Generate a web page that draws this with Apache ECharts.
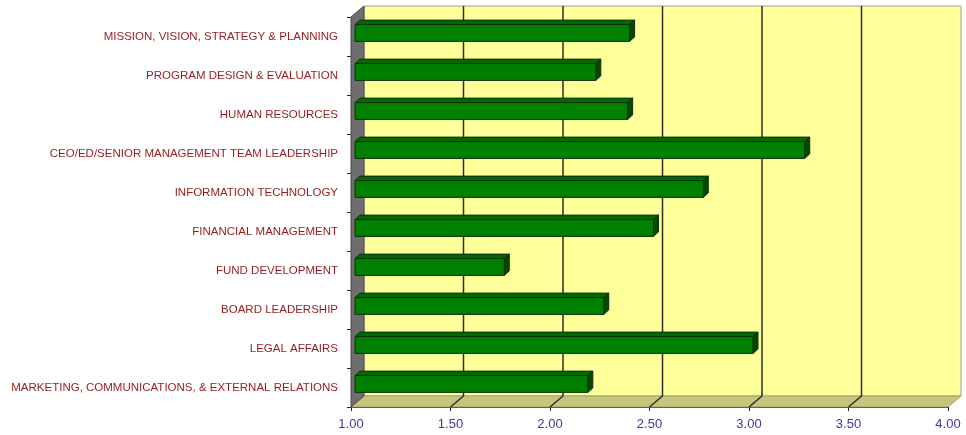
<!DOCTYPE html>
<html>
<head>
<meta charset="utf-8">
<script src="https://cdn.jsdelivr.net/npm/echarts@6/dist/echarts.min.js"></script>
<style>
html,body{margin:0;padding:0;background:#fff;}
#chart{width:966px;height:435px;}
</style>
</head>
<body>
<div id="chart"></div>
<script>
// categories top to bottom
var categories = [
	'MISSION, VISION, STRATEGY & PLANNING',
	'PROGRAM DESIGN & EVALUATION',
	'HUMAN RESOURCES',
	'CEO/ED/SENIOR MANAGEMENT TEAM LEADERSHIP',
	'INFORMATION TECHNOLOGY',
	'FINANCIAL MANAGEMENT',
	'FUND DEVELOPMENT',
	'BOARD LEADERSHIP',
	'LEGAL AFFAIRS',
	'MARKETING, COMMUNICATIONS, & EXTERNAL RELATIONS'
];
var scores = [2.38, 2.21, 2.37, 3.26, 2.75, 2.50, 1.75, 2.25, 3.00, 2.17];
var xTicks = [1.0, 1.5, 2.0, 2.5, 3.0, 3.5, 4.0];

var DX = 13, DY = -11;   // depth of the back wall
var BX = 4, BY = -3.5;   // bar front face offset
var BDX = 5, BDY = -4.5; // bar depth

function wallsItem(params, api)
{
	var r = params.coordSys;
	var x0 = r.x, x1 = r.x + r.width, y0 = r.y, y1 = r.y + r.height;
	var kids = [];
	// back wall
	kids.push({type:'rect', shape:{x:x0+DX, y:y0+DY, width:r.width, height:r.height},
		style:{fill:'#ffff99', stroke:'#a0a0a0', lineWidth:1}});
	// floor
	kids.push({type:'polygon', shape:{points:[[x0,y1],[x1,y1],[x1+DX,y1+DY],[x0+DX,y1+DY]]},
		style:{fill:'#c6c67a', stroke:'#a0a080', lineWidth:1}});
	// left wall
	kids.push({type:'polygon', shape:{points:[[x0,y0],[x0+DX,y0+DY],[x0+DX,y1+DY],[x0,y1]]},
		style:{fill:'#6e6e6e', stroke:'#4a4a4a', lineWidth:1}});
	// gridlines on wall + floor
	for(var i=1;i<xTicks.length-1;i++)
	{
		var px = api.coord([xTicks[i], 0])[0];
		kids.push({type:'polyline', shape:{points:[[px+DX,y0+DY],[px+DX,y1+DY],[px,y1]]},
			style:{stroke:'#2e2e2e', lineWidth:1.5, fill:null}});
	}
	return {type:'group', children:kids};
}

function barItem(params, api)
{
	var idx = api.value(1);
	var p0 = api.coord([1, idx]);
	var p1 = api.coord([api.value(0), idx]);
	var h = api.size([0, 1])[1] * 0.43;
	var xa = p0[0] + BX, xb = p1[0] + BX;
	var yt = p0[1] + BY - h/2, yb = yt + h;
	var edge = '#0b2e0b';
	return {type:'group', children:[
		{type:'polygon', shape:{points:[[xa,yt],[xb,yt],[xb+BDX,yt+BDY],[xa+BDX,yt+BDY]]},
			style:{fill:'#006a00', stroke:edge, lineWidth:1}},
		{type:'polygon', shape:{points:[[xb,yt],[xb+BDX,yt+BDY],[xb+BDX,yb+BDY],[xb,yb]]},
			style:{fill:'#004a00', stroke:edge, lineWidth:1}},
		{type:'rect', shape:{x:xa, y:yt, width:xb-xa, height:h},
			style:{fill:'#008000', stroke:edge, lineWidth:1}}
	]};
}

var barData = [];
for(var i=0;i<scores.length;i++) barData.push([scores[i], i]);

var myChart = echarts.init(document.getElementById('chart'));
var option = {
	animation: false,
	grid: {left: 351, right: 18, top: 17, bottom: 28, containLabel: false, outerBoundsMode: 'none'},
	xAxis: {
		type: 'value', min: 1, max: 4, interval: 0.5,
		axisLine: {show: true, onZero: false, lineStyle: {color: '#222', width: 1}},
		axisTick: {show: true, length: 4, lineStyle: {color: '#222'}},
		splitLine: {show: false},
		axisLabel: {color: '#3a3aa0', fontSize: 13, fontFamily: 'Liberation Sans, Arial', margin: 11,
			formatter: function(v){ return v.toFixed(2); }}
	},
	yAxis: {
		type: 'category', inverse: true, data: categories,
		axisLine: {show: true, lineStyle: {color: '#222', width: 1}},
		axisTick: {show: true, length: 4, lineStyle: {color: '#222'}},
		splitLine: {show: false},
		axisLabel: {color: '#961c1c', fontSize: 11.5, margin: 13,
			fontFamily: '"Liberation Sans", Arial'}
	},
	series: [
		{type: 'custom', name: 'walls', data: [[1, 0]], renderItem: wallsItem, z: 1, silent: true},
		{type: 'custom', name: 'score', data: barData, renderItem: barItem, z: 2,
			encode: {x: 0, y: 1}}
	]
};
myChart.setOption(option);
</script>
</body>
</html>
